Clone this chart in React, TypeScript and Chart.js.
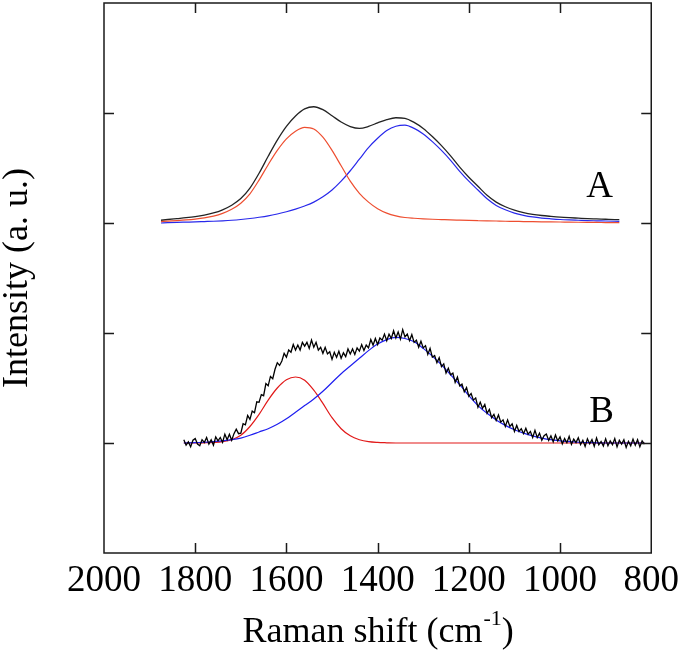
import React, { useEffect, useRef } from "react";
import { Chart, registerables } from "chart.js";

Chart.register(...registerables);

// ---- Spectrum A (fitted, smooth) ----
const waveA = [1875, 1860, 1840, 1820, 1800, 1780, 1760, 1740, 1720, 1700, 1680, 1660, 1640, 1620, 1600, 1580, 1560, 1540, 1520, 1500, 1480, 1460, 1440, 1420, 1400, 1380, 1360, 1340, 1320, 1300, 1280, 1260, 1240, 1220, 1200, 1180, 1160, 1140, 1120, 1100, 1080, 1060, 1040, 1020, 1000, 980, 960, 940, 920, 900, 880, 870];
const blackA = [3.025, 3.032, 3.04, 3.048, 3.058, 3.072, 3.091, 3.12, 3.162, 3.222, 3.317, 3.452, 3.607, 3.754, 3.879, 3.973, 4.037, 4.057, 4.03, 3.975, 3.918, 3.877, 3.86, 3.878, 3.91, 3.94, 3.957, 3.952, 3.915, 3.86, 3.786, 3.703, 3.61, 3.508, 3.416, 3.334, 3.252, 3.19, 3.148, 3.117, 3.095, 3.079, 3.068, 3.06, 3.053, 3.048, 3.044, 3.04, 3.037, 3.034, 3.031, 3.03];
const redA = [3.013, 3.017, 3.022, 3.028, 3.036, 3.047, 3.063, 3.088, 3.125, 3.18, 3.265, 3.39, 3.53, 3.66, 3.765, 3.835, 3.87, 3.855, 3.78, 3.66, 3.52, 3.38, 3.27, 3.19, 3.13, 3.09, 3.065, 3.05, 3.043, 3.038, 3.034, 3.031, 3.028, 3.026, 3.024, 3.022, 3.02, 3.018, 3.016, 3.015, 3.013, 3.012, 3.011, 3.01, 3.009, 3.008, 3.007, 3.006, 3.005, 3.004, 3.003, 3.003];
const blueA = [3.0, 3.003, 3.006, 3.008, 3.01, 3.013, 3.016, 3.02, 3.025, 3.032, 3.041, 3.052, 3.065, 3.082, 3.102, 3.126, 3.155, 3.19, 3.238, 3.30, 3.38, 3.475, 3.58, 3.685, 3.77, 3.84, 3.88, 3.89, 3.86, 3.81, 3.74, 3.66, 3.57, 3.47, 3.38, 3.30, 3.22, 3.16, 3.12, 3.09, 3.07, 3.055, 3.045, 3.038, 3.032, 3.028, 3.025, 3.022, 3.02, 3.018, 3.016, 3.015];

// ---- Spectrum B (fit components, smooth) ----
const waveBFit = [1825, 1800, 1780, 1760, 1740, 1720, 1700, 1680, 1660, 1640, 1620, 1600, 1580, 1560, 1540, 1520, 1500, 1480, 1460, 1440, 1420, 1400, 1380, 1360, 1340, 1320, 1300, 1280, 1260, 1240, 1220, 1200, 1180, 1160, 1140, 1120, 1100, 1080, 1060, 1040, 1020, 1000, 980, 960, 940, 920, 900, 880, 860, 840, 815];
const redB = [1.0, 1.0, 1.002, 1.005, 1.012, 1.03, 1.07, 1.15, 1.26, 1.39, 1.50, 1.575, 1.60, 1.57, 1.48, 1.36, 1.23, 1.13, 1.065, 1.03, 1.012, 1.005, 1.002, 1.0, 1.0, 1.0, 1.0, 1.0, 1.0, 1.0, 1.0, 1.0, 1.0, 1.0, 1.0, 1.0, 1.0, 1.0, 1.0, 1.0, 1.0, 1.0, 1.0, 1.0, 1.0, 1.0, 1.0, 1.0, 1.0, 1.0, 1.0];
const blueB = [1.0, 1.003, 1.007, 1.013, 1.02, 1.03, 1.045, 1.07, 1.10, 1.13, 1.17, 1.22, 1.28, 1.34, 1.40, 1.47, 1.55, 1.63, 1.70, 1.77, 1.84, 1.90, 1.94, 1.96, 1.95, 1.92, 1.86, 1.79, 1.71, 1.62, 1.53, 1.43, 1.34, 1.27, 1.21, 1.16, 1.12, 1.09, 1.065, 1.045, 1.03, 1.02, 1.012, 1.007, 1.004, 1.002, 1.0, 1.0, 1.0, 1.0, 1.0];

// ---- Spectrum B (measured, noisy), 1825 -> 815 cm-1 every 5 ----
const waveBStart = 1825;
const waveBStep = 5;
const blackB = [
  1.03, 0.98, 1.01, 0.965, 1.025, 1.04, 0.99, 0.975, 1.03, 1.005,
  1.05, 0.99, 1.03, 0.98, 1.055, 1.02, 1.05, 1.005, 1.08, 1.03,
  1.08, 1.025, 1.085, 1.125, 1.085, 1.09, 1.175, 1.165, 1.25, 1.215,
  1.29, 1.275, 1.375, 1.37, 1.44, 1.43, 1.54, 1.52, 1.605, 1.585,
  1.67, 1.73, 1.705, 1.745, 1.815, 1.78, 1.845, 1.825, 1.895, 1.845,
  1.89, 1.845, 1.915, 1.88, 1.915, 1.86, 1.935, 1.87, 1.915, 1.845,
  1.87, 1.815, 1.87, 1.81, 1.83, 1.76, 1.825, 1.78, 1.835, 1.77,
  1.82, 1.785, 1.855, 1.81, 1.855, 1.805, 1.865, 1.835, 1.895, 1.84,
  1.89, 1.865, 1.94, 1.89, 1.95, 1.895, 1.955, 1.935, 1.99, 1.93,
  1.99, 1.95, 2.02, 1.955, 2.01, 1.945, 2.03, 1.965, 1.99, 1.93,
  1.985, 1.915, 1.935, 1.87, 1.925, 1.865, 1.885, 1.805, 1.86, 1.78,
  1.795, 1.73, 1.775, 1.695, 1.72, 1.635, 1.68, 1.62, 1.635, 1.55,
  1.60, 1.52, 1.535, 1.465, 1.505, 1.425, 1.45, 1.39, 1.41, 1.325,
  1.37, 1.315, 1.35, 1.27, 1.305, 1.23, 1.26, 1.205, 1.255, 1.19,
  1.21, 1.15, 1.21, 1.15, 1.175, 1.105, 1.16, 1.105, 1.13, 1.085,
  1.135, 1.08, 1.105, 1.05, 1.115, 1.05, 1.09, 1.025, 1.066, 1.082,
  1.024, 1.065, 1.011, 1.073, 1.019, 1.055, 0.992, 1.04, 1.002, 1.06,
  0.988, 1.036, 1.004, 1.047, 0.986, 1.025, 0.969, 1.038, 0.992, 1.031,
  0.97, 1.045, 0.984, 1.014, 0.973, 1.038, 0.975, 1.02, 0.985, 1.04,
  0.965, 1.025, 0.99, 1.03, 0.96, 1.015, 0.975, 1.035, 0.98, 1.03,
  0.965, 1.02, 0.99
];

// ---- Axes ----
const xMin = 800;
const xMax = 2000;
const xStep = 200;
const yMin = 0;
const yMax = 5;
const yTickValues = [1, 2, 3, 4];
const xInnerTicks = [1800, 1600, 1400, 1200, 1000];
const xTitleMain = "Raman shift (cm";
const xTitleSup = "-1";
const xTitleEnd = ")";
const yTitle = "Intensity (a. u.)";
const seriesLabels = ["A", "B"];
const seriesLabelPos = [
  { x: 913, y: 3.24 },
  { x: 909, y: 1.19 },
];

const FONT = "'Liberation Serif', 'Times New Roman', serif";

function pts(xs: number[], ys: number[]) {
  return xs.map((x, i) => ({ x, y: ys[i] }));
}

export default function App() {
  const ref = useRef<HTMLCanvasElement | null>(null);

  useEffect(() => {
    document.body.style.margin = "0";
    const canvas = ref.current;
    if (!canvas) return;

    const waveB = blackB.map((_, i) => waveBStart - i * waveBStep);

    const framePlugin = {
      id: "frameAndText",
      afterDraw(chart: any) {
        const { ctx, chartArea, scales } = chart;
        const { left, right, top, bottom } = chartArea;
        const xs = scales.x;
        const ys = scales.y;
        ctx.save();
        ctx.strokeStyle = "#1a1a1a";
        ctx.lineWidth = 1.5;
        ctx.strokeRect(left, top, right - left, bottom - top);
        const tl = 10;
        ctx.beginPath();
        yTickValues.forEach((v) => {
          const py = Math.round(ys.getPixelForValue(v)) + 0.5;
          ctx.moveTo(left, py);
          ctx.lineTo(left + tl, py);
          ctx.moveTo(right, py);
          ctx.lineTo(right - tl, py);
        });
        xInnerTicks.forEach((v) => {
          const px = Math.round(xs.getPixelForValue(v)) + 0.5;
          ctx.moveTo(px, bottom);
          ctx.lineTo(px, bottom - tl);
          ctx.moveTo(px, top);
          ctx.lineTo(px, top + tl);
        });
        ctx.stroke();

        // series labels
        ctx.fillStyle = "#000";
        ctx.font = `37px ${FONT}`;
        ctx.textAlign = "center";
        ctx.textBaseline = "alphabetic";
        seriesLabels.forEach((t, i) => {
          const p = seriesLabelPos[i];
          ctx.fillText(t, xs.getPixelForValue(p.x), ys.getPixelForValue(p.y));
        });

        // x title with superscript
        const mainFont = `36px ${FONT}`;
        const supFont = `22px ${FONT}`;
        ctx.font = mainFont;
        const w1 = ctx.measureText(xTitleMain).width;
        const w3 = ctx.measureText(xTitleEnd).width;
        ctx.font = supFont;
        const w2 = ctx.measureText(xTitleSup).width;
        const total = w1 + w2 + w3;
        const cx = (left + right) / 2;
        const base = 642;
        const x0 = cx - total / 2;
        ctx.textAlign = "left";
        ctx.font = mainFont;
        ctx.fillText(xTitleMain, x0, base);
        ctx.font = supFont;
        ctx.fillText(xTitleSup, x0 + w1 + 1, base - 17);
        ctx.font = mainFont;
        ctx.fillText(xTitleEnd, x0 + w1 + w2 + 1, base);

        // y title
        ctx.save();
        ctx.translate(27, (top + bottom) / 2);
        ctx.rotate(-Math.PI / 2);
        ctx.textAlign = "center";
        ctx.font = `36px ${FONT}`;
        ctx.fillText(yTitle, 0, 0);
        ctx.restore();
        ctx.restore();
      },
    };

    const smooth = {
      pointRadius: 0,
      cubicInterpolationMode: "monotone" as const,
      fill: false,
    };

    const chart = new Chart(canvas, {
      type: "line",
      data: {
        datasets: [
          { ...smooth, data: pts(waveA, redA), borderColor: "rgb(238,78,48)", borderWidth: 1.2 },
          { ...smooth, data: pts(waveA, blueA), borderColor: "rgb(40,40,235)", borderWidth: 1.2 },
          { ...smooth, data: pts(waveA, blackA), borderColor: "rgb(35,35,35)", borderWidth: 1.3 },
          {
            data: pts(waveB, blackB),
            borderColor: "rgb(0,0,0)",
            borderWidth: 1.3,
            pointRadius: 0,
            tension: 0,
            fill: false,
          },
          { ...smooth, data: pts(waveBFit, blueB), borderColor: "rgb(30,30,240)", borderWidth: 1.2 },
          { ...smooth, data: pts(waveBFit, redB), borderColor: "rgb(225,25,25)", borderWidth: 1.2 },
        ],
      },
      options: {
        responsive: false,
        animation: false,
        devicePixelRatio: 1,
        layout: { padding: { left: 104, right: 30, top: 3, bottom: 0 } },
        plugins: { legend: { display: false }, tooltip: { enabled: false } },
        scales: {
          x: {
            type: "linear",
            reverse: true,
            min: xMin,
            max: xMax,
            border: { display: false },
            grid: { display: false, drawTicks: false },
            ticks: {
              stepSize: xStep,
              autoSkip: false,
              maxRotation: 0,
              padding: 6,
              color: "#000",
              font: { family: FONT, size: 37 },
              callback: (v: any) => String(v),
            },
            afterFit: (s: any) => {
              s.height = 102;
            },
          },
          y: {
            type: "linear",
            display: false,
            min: yMin,
            max: yMax,
          },
        },
      },
      plugins: [framePlugin],
    });

    return () => chart.destroy();
  }, []);

  return (
    <div style={{ width: 685, height: 655, background: "#fff" }}>
      <canvas ref={ref} width={685} height={655} />
    </div>
  );
}
